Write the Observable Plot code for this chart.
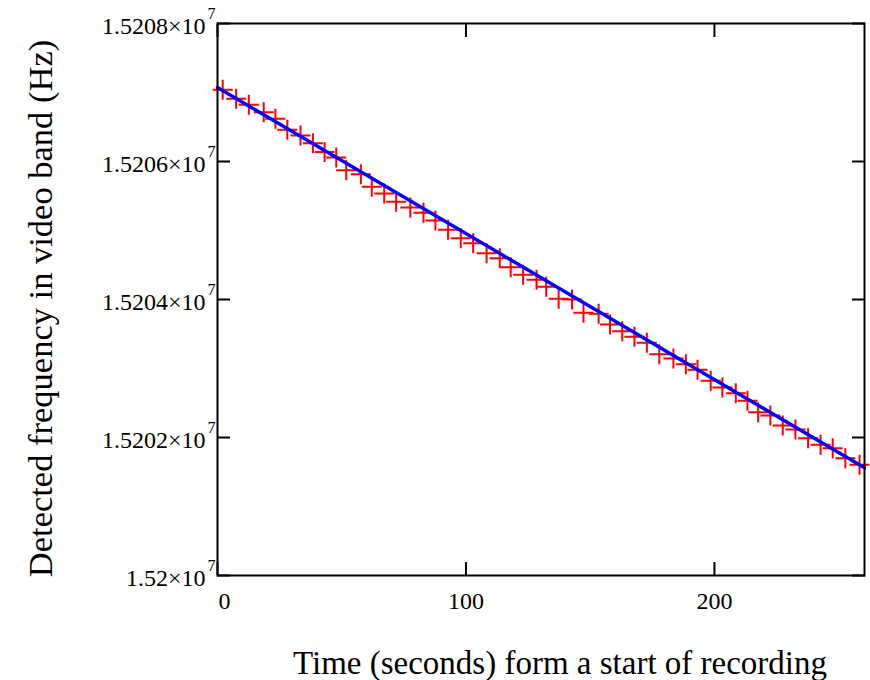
<!DOCTYPE html>
<html><head><meta charset="utf-8">
<script src="https://cdn.jsdelivr.net/npm/d3@7"></script>
<script src="https://cdn.jsdelivr.net/npm/@observablehq/plot@0.6"></script>
<style>body{margin:0;background:#fff}</style>
</head><body><div id="chart"></div>
<script>
const timeSeconds = [2.1, 7.5, 12.6, 18.6, 23.3, 28.1, 33.4, 38.4, 43.1, 47.8, 51.8, 57.7, 62.1, 67.1, 71.9, 77.6, 82.9, 87.7, 92.8, 97.9, 102.9, 108.3, 113.6, 118.0, 123.0, 128.4, 132.3, 137.3, 142.7, 147.3, 153.4, 158.0, 162.9, 167.8, 172.8, 177.8, 183.5, 188.5, 193.2, 198.5, 203.2, 208.6, 213.3, 217.6, 222.5, 227.5, 232.6, 237.7, 242.7, 247.6, 252.7, 258.4];
const frequencyHz = [15207039, 15206909, 15206822, 15206714, 15206619, 15206459, 15206377, 15206265, 15206138, 15206058, 15205874, 15205816, 15205633, 15205536, 15205416, 15205333, 15205257, 15205145, 15205010, 15204888, 15204816, 15204671, 15204598, 15204468, 15204358, 15204285, 15204184, 15204010, 15204000, 15203807, 15203793, 15203638, 15203541, 15203459, 15203372, 15203207, 15203145, 15203062, 15202981, 15202822, 15202725, 15202642, 15202532, 15202367, 15202319, 15202174, 15202116, 15201990, 15201894, 15201845, 15201700, 15201604];
const fitTime = [0, 260.4];
const fitFrequency = [15207072, 15201562];
const xDomain = [0, 260.4];
const yDomain = [15200000, 15208000];
const xTicks = [0, 100, 200];
const xTickLabels = ["0", "100", "200"];
const yTicks = [15200000, 15202000, 15204000, 15206000, 15208000];
const yTickLabels = ["1.52", "1.5202", "1.5204", "1.5206", "1.5208"];
const yTickExponent = "7";
const xTitle = "Time (seconds) form a start of recording";
const yTitle = "Detected frequency in video band (Hz)";

const points = timeSeconds.map((t, i) => ({t, f: frequencyHz[i]}));
const fit = fitTime.map((t, i) => ({t, f: fitFrequency[i]}));
const font = "Liberation Serif, Times New Roman, serif";
const tickOpts = {tickSize: 13, tickFormat: () => "", label: null, strokeWidth: 2, stroke: "black"};

const chart = Plot.plot({
  width: 870, height: 680,
  marginLeft: 217, marginRight: 6, marginTop: 23, marginBottom: 105,
  style: {fontFamily: font, background: "white"},
  x: {domain: xDomain, axis: null},
  y: {domain: yDomain, axis: null},
  marks: [
    Plot.dot(points, {x: "t", y: "f", symbol: "plus", r: 6.5, stroke: "#ff0000", strokeWidth: 2}),
    Plot.line(fit, {x: "t", y: "f", stroke: "#0000ff", strokeWidth: 3.4}),
    Plot.axisY(yTicks, {...tickOpts, anchor: "left", dx: 13}),
    Plot.axisY(yTicks, {...tickOpts, anchor: "right", dx: -13}),
    Plot.axisX(xTicks, {...tickOpts, anchor: "bottom", dy: -13}),
    Plot.axisX(xTicks, {...tickOpts, anchor: "top", dy: 13}),
    Plot.frame({stroke: "black", strokeWidth: 2}),
    Plot.text(yTicks, {y: d => d, text: (d, i) => yTickLabels[i] + "×10", frameAnchor: "left", textAnchor: "end", lineAnchor: "middle", dx: -12, dy: 3, fontSize: 24, fill: "black"}),
    Plot.text(yTicks, {y: d => d, text: () => yTickExponent, frameAnchor: "left", textAnchor: "end", lineAnchor: "middle", dx: -2, dy: -10, fontSize: 16, fill: "black"}),
    Plot.text(xTicks.slice(0, 1), {x: d => d, text: (d, i) => xTickLabels[i], frameAnchor: "bottom", textAnchor: "middle", lineAnchor: "middle", dy: 26, dx: 7, fontSize: 24, fill: "black"}),
    Plot.text(xTicks.slice(1), {x: d => d, text: (d, i) => xTickLabels[i + 1], frameAnchor: "bottom", textAnchor: "middle", lineAnchor: "middle", dy: 26, fontSize: 24, fill: "black"}),
    Plot.text([xTitle], {text: d => d, frameAnchor: "bottom", textAnchor: "middle", lineAnchor: "middle", dx: 19, dy: 88, fontSize: 33, fill: "black"}),
    Plot.text([yTitle], {text: d => d, frameAnchor: "left", textAnchor: "middle", lineAnchor: "middle", rotate: -90, dx: -177, dy: 9, fontSize: 34.5, fill: "black"})
  ]
});
document.getElementById("chart").appendChild(chart);
</script>
</body></html>
